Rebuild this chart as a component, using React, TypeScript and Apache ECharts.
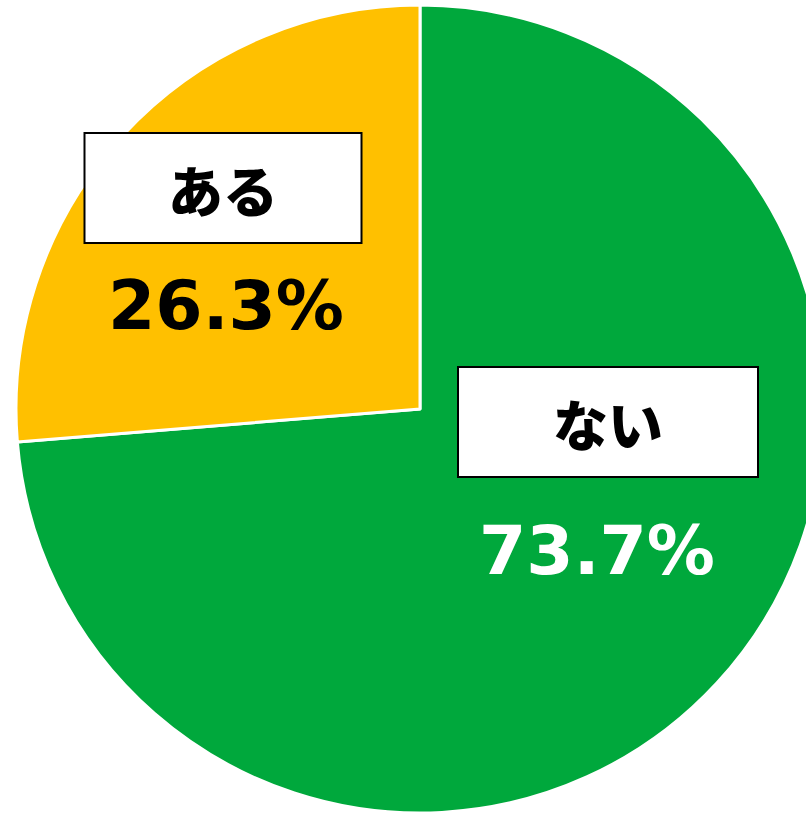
import React, { useEffect, useRef } from "react";
import * as echarts from "echarts";

const categories = ["ない", "ある"];
const values = [73.7, 26.3];
const colors = ["#00A83C", "#FFC000"];
const pctColors = ["#FFFFFF", "#000000"];

// label block positions (center of box+percent block)
const labelPos = [
  { x: 608, y: 495, boxW: 298, pctLH: 146, pctPad: [0, 22, 0, 0] },
  { x: 223, y: 250, boxW: 275, pctLH: 124, pctPad: [0, 0, 0, 6] },
];

export default function App() {
  const ref = useRef<HTMLDivElement>(null);
  useEffect(() => {
    if (!ref.current) return;
    const chart = echarts.init(ref.current, undefined, { renderer: "svg" });
    chart.setOption({
      animation: false,
      series: [
        {
          type: "pie",
          center: [420, 409],
          radius: 404,
          startAngle: 90,
          clockwise: true,
          silent: true,
          itemStyle: { borderColor: "#ffffff", borderWidth: 3 },
          labelLine: { show: false },
          data: categories.map((name, i) => ({
            name,
            value: values[i],
            itemStyle: { color: colors[i] },
            label: {
              show: true,
              position: "inside",
              align: "center",
              verticalAlign: "middle",
              formatter: `{box|${name}}\n{pct|${values[i].toFixed(1)}%}`,
              rich: {
                box: {
                  width: labelPos[i].boxW,
                  height: 108,
                  lineHeight: 110,
                  align: "center",
                  backgroundColor: "#ffffff",
                  borderColor: "#000000",
                  borderWidth: 2,
                  fontFamily: "Noto Sans CJK JP",
                  fontWeight: 900,
                  fontSize: 55,
                  color: "#000000",
                },
                pct: {
                  lineHeight: labelPos[i].pctLH,
                  align: "center",
                  padding: labelPos[i].pctPad,
                  fontFamily: "DejaVu Sans",
                  fontWeight: "bold",
                  fontSize: 68,
                  color: pctColors[i],
                },
              },
            },
          })),
          labelLayout: (params: any) => ({
            x: labelPos[params.dataIndex].x,
            y: labelPos[params.dataIndex].y,
          }),
        },
      ],
    });
    return () => chart.dispose();
  }, []);
  return (
    <div
      ref={ref}
      style={{ position: "absolute", left: 0, top: 0, width: 806, height: 815 }}
    />
  );
}
